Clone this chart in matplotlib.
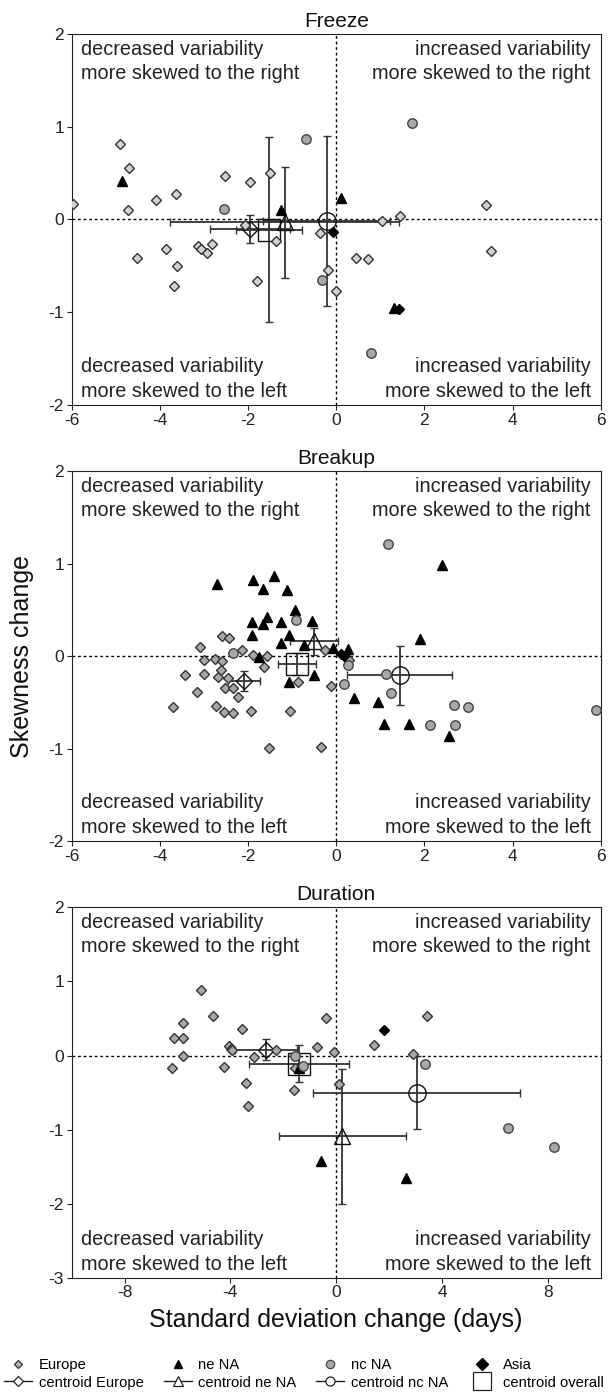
"""Skewness change vs standard deviation change for freeze, breakup and duration."""

import matplotlib
matplotlib.use('Agg')
import matplotlib.pyplot as plt
from matplotlib.lines import Line2D

plt.rcParams['font.family'] = ['Liberation Sans', 'DejaVu Sans']
plt.rcParams['axes.unicode_minus'] = False

# ---- Freeze ----
fr_eu_x = [-5.97, -4.90, -4.71, -4.72, -4.52, -4.09, -3.63, -3.85, -3.61, -3.69,
           -3.13, -3.07, -2.93, -2.81, -2.52, -1.95, -2.06, -1.50, -1.80, -1.36,
           -0.36, -0.19, -0.01, 0.45, 0.73, 1.04, 1.45, 3.40, 3.51]
fr_eu_y = [0.17, 0.81, 0.55, 0.10, -0.41, 0.21, 0.27, -0.32, -0.50, -0.72,
           -0.29, -0.32, -0.36, -0.26, 0.47, 0.40, -0.06, 0.50, -0.66, -0.23,
           -0.15, -0.54, -0.77, -0.41, -0.43, -0.02, 0.04, 0.16, -0.34]
fr_ne_x = [-4.86, -1.25, 0.11, 1.30]
fr_ne_y = [0.41, 0.10, 0.23, -0.95]
fr_nc_x = [-2.54, -0.69, -0.32, 1.72, 0.79]
fr_nc_y = [0.11, 0.87, -0.65, 1.04, -1.44]
fr_as_x = [-0.08, 1.43]
fr_as_y = [-0.13, -0.97]
# centroids: Europe, ne NA, nc NA, overall -> (x, y, xerr, yerr)
fr_cen_x = [-1.95, -1.17, -0.21, -1.53]
fr_cen_y = [-0.10, -0.03, -0.015, -0.11]
fr_cen_xerr = [0.91, 2.60, 1.44, 0.75]
fr_cen_yerr = [0.15, 0.60, 0.92, 1.00]

# ---- Breakup ----
br_eu_x = [-3.70, -3.42, -3.16, -3.09, -2.99, -2.99, -2.74, -2.73, -2.69, -2.60,
           -2.61, -2.58, -2.55, -2.53, -2.46, -2.43, -2.35, -2.34, -2.23, -2.13,
           -1.93, -1.89, -1.63, -1.58, -1.52, -1.04, -0.86, -0.35, -0.25, -0.12, 0.30]
br_eu_y = [-0.55, -0.20, -0.39, 0.10, -0.04, -0.19, -0.03, -0.54, -0.23, -0.05,
           -0.15, 0.22, -0.60, -0.35, -0.24, 0.20, -0.62, -0.35, -0.44, 0.06,
           -0.59, 0.01, -0.12, 0.00, -0.99, -0.59, -0.28, -0.98, 0.06, -0.32, -0.04]
br_ne_x = [-2.70, -1.88, -1.41, -1.66, -1.12, -0.93, -1.90, -1.67, -1.56, -1.25,
           -0.55, -1.90, -1.07, -1.25, -0.74, -1.76, -0.51, -1.07, -0.08, 0.26,
           0.41, 2.39, 1.91, 0.95, 1.09, 1.65, 2.55]
br_ne_y = [0.78, 0.82, 0.86, 0.72, 0.71, 0.50, 0.37, 0.35, 0.42, 0.37,
           0.38, 0.23, 0.23, 0.14, 0.12, -0.01, -0.20, -0.28, 0.09, 0.08,
           -0.45, 0.98, 0.18, -0.50, -0.73, -0.73, -0.86]
br_nc_x = [-2.33, -0.91, 0.27, 0.17, 1.17, 1.13, 1.24, 2.67, 3.00, 2.13, 2.69, 5.89]
br_nc_y = [0.03, 0.39, -0.10, -0.30, 1.21, -0.19, -0.40, -0.53, -0.55, -0.75, -0.75, -0.58]
br_as_x = [0.10, 0.18]
br_as_y = [0.02, 0.00]
br_cen_x = [-2.10, -0.50, 1.44, -0.88]
br_cen_y = [-0.27, 0.16, -0.21, -0.09]
br_cen_xerr = [0.36, 0.54, 1.19, 0.43]
br_cen_yerr = [0.11, 0.145, 0.32, 0.12]

# ---- Duration ----
du_eu_x = [-5.12, -4.66, -5.80, -6.14, -5.78, -5.81, -6.19, -4.23, -3.57, -4.06,
           -3.98, -3.93, -3.10, -3.41, -3.34, -2.26, -1.58, -1.55, -0.74, -0.40,
           -0.08, 0.11, 1.44, 3.43, 2.90]
du_eu_y = [0.88, 0.54, 0.44, 0.24, 0.23, -0.01, -0.17, -0.16, 0.36, 0.13,
           0.09, 0.07, -0.02, -0.37, -0.68, 0.08, -0.47, -0.17, 0.11, 0.50,
           0.05, -0.38, 0.14, 0.53, 0.02]
du_ne_x = [-0.56, 2.65, -1.42]
du_ne_y = [-1.43, -1.65, -0.17]
du_nc_x = [-1.55, -1.27, 3.35, 6.48, 8.23]
du_nc_y = [-0.01, -0.14, -0.11, -0.98, -1.24]
du_as_x = [1.81]
du_as_y = [0.34]
du_cen_x = [-2.66, 0.23, 3.04, -1.40]
du_cen_y = [0.08, -1.09, -0.50, -0.11]
du_cen_xerr = [1.17, 2.41, 3.90, 1.89]
du_cen_yerr = [0.14, 0.91, 0.49, 0.25]

panels = [
    ('Freeze', fr_eu_x, fr_eu_y, fr_ne_x, fr_ne_y, fr_nc_x, fr_nc_y, fr_as_x, fr_as_y,
     fr_cen_x, fr_cen_y, fr_cen_xerr, fr_cen_yerr, '#d2d2d2'),
    ('Breakup', br_eu_x, br_eu_y, br_ne_x, br_ne_y, br_nc_x, br_nc_y, br_as_x, br_as_y,
     br_cen_x, br_cen_y, br_cen_xerr, br_cen_yerr, '#a8a8a8'),
    ('Duration', du_eu_x, du_eu_y, du_ne_x, du_ne_y, du_nc_x, du_nc_y, du_as_x, du_as_y,
     du_cen_x, du_cen_y, du_cen_xerr, du_cen_yerr, '#a8a8a8'),
]

quad_text = [
    ('decreased variability', 'more skewed to the right'),
    ('increased variability', 'more skewed to the right'),
    ('decreased variability', 'more skewed to the left'),
    ('increased variability', 'more skewed to the left'),
]

fig = plt.figure(figsize=(6.16, 13.94), dpi=100)
rects = [
    [0.1164, 0.7095, 0.8588, 0.2661],
    [0.1164, 0.3967, 0.8588, 0.2654],
    [0.1164, 0.0834, 0.8588, 0.2657],
]
txt_col = '#222222'
ebar_col = '#333333'
cen_markers = ['D', '^', 'o', 's']
cen_sizes = [7.8, 11.5, 12.5, 15.5]

for i, (name, eux, euy, nex, ney, ncx, ncy, asx, asy,
        cx, cy, cxe, cye, eu_fill) in enumerate(panels):
    ax = fig.add_axes(rects[i])
    ax.axhline(0, color='k', lw=1, ls=(0, (2, 2)), zorder=1)
    ax.axvline(0, color='k', lw=1, ls=(0, (2, 2)), zorder=1)

    # centroids with error bars
    for mk, ms, x, y, xe, ye in zip(cen_markers, cen_sizes, cx, cy, cxe, cye):
        ax.errorbar(x, y, xerr=xe, yerr=ye, fmt=mk, ms=ms, mfc='none', mec='#111111',
                    mew=1.0, ecolor=ebar_col, elinewidth=1.3, capsize=3, capthick=1,
                    zorder=2)

    ax.plot(eux, euy, 'D', ms=4.6, mfc=eu_fill, mec='#333333', mew=1.0, ls='none', zorder=3)
    ax.plot(nex, ney, '^', ms=6.8, mfc='black', mec='black', ls='none', zorder=3)
    ax.plot(ncx, ncy, 'o', ms=6.8, mfc='#a8a8a8', mec='#444444', mew=1.0, ls='none', zorder=3)
    ax.plot(asx, asy, 'D', ms=5.6, mfc='black', mec='black', ls='none', zorder=4)

    if i < 2:
        ax.set_xlim(-6, 6)
        ax.set_xticks(range(-6, 7, 2))
        ax.set_ylim(-2, 2)
        ax.set_yticks(range(-2, 3))
    else:
        ax.set_xlim(-10, 10)
        ax.set_xticks([-8, -4, 0, 4, 8])
        ax.set_ylim(-3, 2)
        ax.set_yticks(range(-3, 3))

    ax.tick_params(direction='out', length=3.5, width=0.8, labelsize=12.5, pad=2,
                   colors='#222222')
    for sp in ax.spines.values():
        sp.set_linewidth(0.8)
        sp.set_color('#222222')
    ax.set_title(name, fontsize=15, pad=5, color='#111111')

    h = rects[i][3] * 1394
    kw = dict(transform=ax.transAxes, fontsize=14.3, color=txt_col, va='baseline')
    l0 = 0.017
    r0 = 0.981
    ax.text(l0, 1 - 21 / h, quad_text[0][0], ha='left', **kw)
    ax.text(l0, 1 - 45 / h, quad_text[0][1], ha='left', **kw)
    ax.text(r0, 1 - 21 / h, quad_text[1][0], ha='right', **kw)
    ax.text(r0, 1 - 45 / h, quad_text[1][1], ha='right', **kw)
    ax.text(l0, 33 / h, quad_text[2][0], ha='left', **kw)
    ax.text(l0, 8 / h, quad_text[2][1], ha='left', **kw)
    ax.text(r0, 33 / h, quad_text[3][0], ha='right', **kw)
    ax.text(r0, 8 / h, quad_text[3][1], ha='right', **kw)

fig.text(22 / 616, 1 - 656 / 1394, 'Skewness change', rotation=90, fontsize=18,
         ha='center', va='center', color='#111111')
fig.text(336 / 616, 1 - 1320 / 1394, 'Standard deviation change (days)', fontsize=18,
         ha='center', va='center', color='#111111')

handles = [
    Line2D([], [], ls='none', marker='D', ms=4.2, mfc='#b0b0b0', mec='#333333', mew=0.9),
    Line2D([], [], color='#222222', lw=1, marker='D', ms=5, mfc='white', mec='#222222', mew=0.9),
    Line2D([], [], ls='none', marker='^', ms=6, mfc='black', mec='black'),
    Line2D([], [], color='#222222', lw=1, marker='^', ms=6.5, mfc='white', mec='#222222', mew=0.9),
    Line2D([], [], ls='none', marker='o', ms=6, mfc='#a8a8a8', mec='#444444', mew=0.9),
    Line2D([], [], color='#222222', lw=1, marker='o', ms=6.5, mfc='white', mec='#222222', mew=0.9),
    Line2D([], [], ls='none', marker='D', ms=6.5, mfc='black', mec='black'),
    Line2D([], [], ls='none', marker='s', ms=13, mfc='white', mec='#222222', mew=0.9),
]
labels = ['Europe', 'centroid Europe', 'ne NA', 'centroid ne NA',
          'nc NA', 'centroid nc NA', 'Asia', 'centroid overall']
fig.legend(handles, labels, ncol=4, loc='lower left', bbox_to_anchor=(0.0, 0.0),
           frameon=False, fontsize=10.6, handlelength=1.9, handletextpad=0.45,
           columnspacing=1.35, labelspacing=0.25, borderaxespad=0.1, borderpad=0.2)

fig.savefig('out.png', dpi=100)
